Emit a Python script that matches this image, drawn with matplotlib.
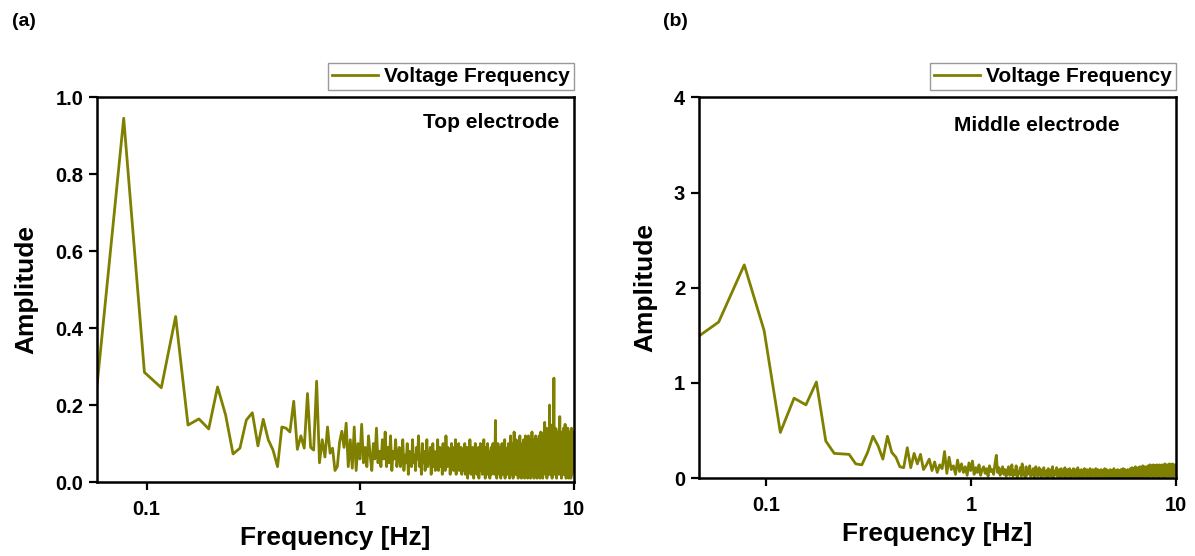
import matplotlib.pyplot as plt
import numpy as np
from matplotlib.ticker import NullLocator

plt.rcParams['font.family'] = ['Liberation Sans', 'DejaVu Sans']
plt.rcParams['font.weight'] = 'bold'

# FFT bin width (Hz) and first bin shown in each panel
df = 0.01953
k0_top = 3
k0_mid = 2

# Top electrode amplitudes (one value per FFT bin)
amp_top = [
    0.25, 0.945, 0.285, 0.245, 0.43, 0.148, 0.164, 0.138, 0.247, 0.174,
    0.073, 0.088, 0.161, 0.18, 0.094, 0.163, 0.11, 0.083, 0.04,
    0.143, 0.14, 0.13, 0.21, 0.085, 0.12, 0.088, 0.23, 0.09, 0.083,
    0.262, 0.05, 0.11, 0.065, 0.143, 0.075, 0.088, 0.03, 0.04, 0.104,
    0.132, 0.09, 0.153, 0.04, 0.11, 0.036, 0.143, 0.03, 0.1, 0.06,
    # 1 - 1.5 Hz
    0.15, 0.05, 0.09, 0.04, 0.12, 0.07, 0.03, 0.10, 0.06, 0.14, 0.05, 0.08, 0.04,
    0.11, 0.06, 0.13, 0.04, 0.09, 0.05, 0.12, 0.03, 0.08, 0.06, 0.11, 0.04, 0.07,
    # 1.5 - 3 Hz
    0.09, 0.04, 0.06, 0.11, 0.03, 0.07, 0.05, 0.10, 0.02, 0.08, 0.06, 0.04, 0.11, 0.05, 0.07, 0.03, 0.09, 0.06, 0.12, 0.04,
    0.07, 0.02, 0.10, 0.05, 0.08, 0.03, 0.06, 0.11, 0.04, 0.07, 0.05, 0.09, 0.02, 0.06, 0.10, 0.04, 0.08, 0.03, 0.07, 0.05,
    0.11, 0.03, 0.06, 0.09, 0.04, 0.08, 0.02, 0.10, 0.05, 0.07, 0.03, 0.12, 0.06, 0.04, 0.09, 0.05, 0.08, 0.02, 0.06, 0.10,
    0.04, 0.07, 0.03, 0.09, 0.05, 0.11, 0.02, 0.06, 0.08, 0.04, 0.10, 0.03, 0.07, 0.05, 0.09, 0.02, 0.06,
    # 3 - 6 Hz
    0.08, 0.03, 0.06, 0.10, 0.02, 0.07, 0.04, 0.09, 0.01, 0.06, 0.08, 0.03, 0.11, 0.05, 0.02, 0.07, 0.04, 0.09, 0.06, 0.01,
    0.07, 0.04, 0.10, 0.03, 0.06, 0.02, 0.08, 0.05, 0.09, 0.01, 0.06, 0.04, 0.10, 0.03, 0.07, 0.05, 0.02, 0.08, 0.04, 0.11,
    0.03, 0.06, 0.01, 0.09, 0.05, 0.07, 0.02, 0.10, 0.04, 0.06, 0.03, 0.08, 0.01, 0.07, 0.05, 0.09, 0.02, 0.06, 0.04, 0.10,
    0.03, 0.07, 0.05, 0.02, 0.09, 0.16, 0.04, 0.06, 0.01, 0.08, 0.05, 0.10, 0.03, 0.07, 0.02, 0.09, 0.04, 0.06, 0.01, 0.08,
    0.05, 0.10, 0.03, 0.07, 0.02, 0.06, 0.09, 0.04, 0.11, 0.01, 0.07, 0.05, 0.08, 0.03, 0.06, 0.02, 0.09, 0.04, 0.10, 0.03,
    0.06, 0.01, 0.08, 0.05, 0.12, 0.03, 0.07, 0.02, 0.09, 0.04, 0.06, 0.01, 0.10, 0.05, 0.13, 0.03, 0.07, 0.02, 0.08, 0.04,
    0.11, 0.02, 0.06, 0.09, 0.03, 0.07, 0.01, 0.10, 0.05, 0.08, 0.02, 0.12, 0.04, 0.06, 0.03, 0.09, 0.01, 0.07, 0.05, 0.10,
    0.02, 0.08, 0.04, 0.11, 0.03, 0.06, 0.01, 0.09, 0.05, 0.12, 0.02, 0.07, 0.04,
    # 6 - 10 Hz
    0.10, 0.03, 0.07, 0.01, 0.09, 0.05, 0.12, 0.02, 0.08, 0.04, 0.11, 0.03, 0.06, 0.01, 0.10, 0.05, 0.08, 0.02, 0.13, 0.04,
    0.07, 0.02, 0.09, 0.05, 0.11, 0.01, 0.06, 0.10, 0.03, 0.08, 0.04, 0.12, 0.02, 0.07, 0.05, 0.10, 0.01, 0.09, 0.04, 0.06,
    0.11, 0.03, 0.08, 0.02, 0.12, 0.05, 0.07, 0.01, 0.10, 0.04, 0.13, 0.03, 0.06, 0.09, 0.02, 0.11, 0.05, 0.08, 0.01, 0.12,
    0.04, 0.09, 0.02, 0.13, 0.05, 0.08, 0.155, 0.03, 0.10, 0.06, 0.12, 0.02, 0.09, 0.04, 0.14, 0.01, 0.07, 0.11, 0.03, 0.13,
    0.05, 0.10, 0.02, 0.12, 0.06, 0.09, 0.20, 0.04, 0.11, 0.02, 0.14, 0.07, 0.10, 0.03, 0.13, 0.05, 0.09, 0.01, 0.12, 0.06,
    0.15, 0.03, 0.10, 0.07, 0.12, 0.27, 0.04, 0.11, 0.02, 0.13, 0.06, 0.09, 0.14, 0.03, 0.10, 0.05, 0.12, 0.01, 0.08, 0.11,
    0.04, 0.13, 0.06, 0.10, 0.02, 0.12, 0.07, 0.09, 0.03, 0.14, 0.05, 0.11, 0.17, 0.02, 0.10, 0.06, 0.13, 0.04, 0.08, 0.12,
    0.01, 0.10, 0.05, 0.13, 0.03, 0.09, 0.12, 0.02, 0.11, 0.06, 0.14, 0.04, 0.08, 0.10, 0.02, 0.13, 0.05, 0.09, 0.15, 0.03,
    0.10, 0.06, 0.12, 0.01, 0.09, 0.04, 0.13, 0.07, 0.11, 0.02, 0.10, 0.05, 0.14, 0.03, 0.08, 0.12, 0.01, 0.09, 0.06, 0.11,
    0.03, 0.13, 0.05, 0.10, 0.02, 0.12, 0.07, 0.09, 0.01, 0.11, 0.04, 0.14, 0.06, 0.10, 0.02, 0.12, 0.05, 0.08, 0.13, 0.03,
    0.11, 0.06, 0.10, 0.04, 0.09,
]

# Middle electrode amplitudes
amp_mid = [
    1.37, 1.64, 2.24, 1.55, 0.48, 0.84, 0.77, 1.01, 0.39, 0.26,
    0.255, 0.25, 0.15, 0.14, 0.27, 0.44, 0.34, 0.2, 0.44, 0.27,
    0.22, 0.12, 0.11, 0.32, 0.11, 0.26, 0.15, 0.25, 0.09, 0.14,
    # 0.6 - 1 Hz
    0.20, 0.08, 0.17, 0.06, 0.14, 0.10, 0.28, 0.05, 0.22, 0.09, 0.13, 0.04, 0.19, 0.07, 0.15, 0.06, 0.12, 0.03, 0.16, 0.08,
    # 1 - 1.5 Hz
    0.18, 0.04, 0.11, 0.06, 0.14, 0.03, 0.09, 0.12, 0.05, 0.10, 0.02, 0.13, 0.07,
    0.09, 0.04, 0.15, 0.24, 0.06, 0.11, 0.03, 0.08, 0.12, 0.04, 0.09, 0.02, 0.07,
    # 1.5 - 6 Hz
    0.12, 0.03, 0.06, 0.14, 0.02, 0.08, 0.04, 0.13, 0.01, 0.07, 0.05, 0.11, 0.02, 0.15, 0.04, 0.06, 0.01, 0.12, 0.03, 0.08,
    0.05, 0.13, 0.02, 0.07, 0.04, 0.10, 0.01, 0.06, 0.12, 0.03, 0.08, 0.02, 0.11, 0.05, 0.07, 0.01, 0.09, 0.04, 0.11, 0.02,
    0.06, 0.03, 0.08, 0.01, 0.10, 0.05, 0.07, 0.02, 0.09, 0.04, 0.12, 0.01, 0.06, 0.03, 0.08, 0.05, 0.11, 0.02, 0.07, 0.04,
    0.09, 0.01, 0.06, 0.10, 0.03, 0.07, 0.02, 0.08, 0.05, 0.11, 0.01, 0.06, 0.04, 0.09, 0.02, 0.07, 0.03, 0.10, 0.05, 0.01,
    0.08, 0.04, 0.06, 0.02, 0.10, 0.03, 0.07, 0.05, 0.01, 0.09, 0.04, 0.06, 0.11, 0.02, 0.05, 0.08, 0.01, 0.07, 0.03, 0.09,
    0.04, 0.06, 0.01, 0.08, 0.03, 0.10, 0.05, 0.02, 0.07, 0.04, 0.09, 0.01, 0.06, 0.03, 0.08, 0.05, 0.02, 0.10, 0.04, 0.06,
    0.01, 0.07, 0.03, 0.09, 0.05, 0.02, 0.08, 0.04, 0.06, 0.01, 0.10, 0.03, 0.07, 0.05, 0.02, 0.09, 0.04, 0.06, 0.01, 0.08,
    0.03, 0.06, 0.02, 0.09, 0.04, 0.07, 0.01, 0.05, 0.08, 0.03, 0.06, 0.02, 0.10, 0.04, 0.07, 0.01, 0.05, 0.09, 0.03, 0.06,
    0.02, 0.08, 0.04, 0.05, 0.01, 0.07, 0.03, 0.09, 0.05, 0.02, 0.06, 0.04, 0.08, 0.01, 0.05, 0.07, 0.03, 0.10, 0.02, 0.06,
    0.04, 0.01, 0.07, 0.05, 0.08, 0.02, 0.06, 0.03, 0.09, 0.04, 0.01, 0.07, 0.05, 0.02, 0.08, 0.03, 0.06, 0.01, 0.09, 0.04,
    0.06, 0.02, 0.08, 0.03, 0.05, 0.10, 0.01, 0.07, 0.04, 0.06, 0.02, 0.09, 0.05, 0.03, 0.07, 0.01, 0.08, 0.04, 0.06, 0.02,
    0.09, 0.03, 0.07, 0.05, 0.01, 0.08, 0.04, 0.06, 0.02, 0.10,
    # 6 - 10 Hz
    0.05, 0.09, 0.02, 0.07, 0.04, 0.11, 0.01, 0.08, 0.05, 0.03, 0.10, 0.06, 0.02, 0.09, 0.04, 0.07, 0.01, 0.12, 0.05, 0.03,
    0.08, 0.02, 0.10, 0.06, 0.04, 0.09, 0.01, 0.07, 0.11, 0.03, 0.06, 0.02, 0.09, 0.05, 0.12, 0.03, 0.07, 0.01, 0.10, 0.04,
    0.06, 0.11, 0.02, 0.08, 0.04, 0.13, 0.03, 0.07, 0.01, 0.10, 0.05, 0.09, 0.02, 0.12, 0.06, 0.03, 0.08, 0.04, 0.11, 0.02,
    0.09, 0.05, 0.12, 0.01, 0.07, 0.10, 0.03, 0.13, 0.05, 0.08, 0.02, 0.11, 0.04, 0.09, 0.06, 0.14, 0.02, 0.08, 0.05, 0.12,
    0.03, 0.10, 0.06, 0.13, 0.02, 0.09, 0.04, 0.11, 0.07, 0.14, 0.01, 0.08, 0.05, 0.12, 0.03, 0.10, 0.06, 0.13, 0.02, 0.09,
    0.05, 0.12, 0.03, 0.11, 0.07, 0.14, 0.02, 0.09, 0.06, 0.13, 0.04, 0.10, 0.01, 0.12, 0.07, 0.09, 0.03, 0.14, 0.05, 0.11,
    0.02, 0.10, 0.06, 0.13, 0.04, 0.08, 0.12, 0.03, 0.11, 0.05, 0.14, 0.02, 0.09, 0.07, 0.12, 0.04, 0.10, 0.01, 0.13, 0.06,
    0.09, 0.03, 0.12, 0.05, 0.15, 0.02, 0.10, 0.07, 0.13, 0.04, 0.11, 0.06, 0.14, 0.02, 0.09, 0.05, 0.12, 0.03, 0.10, 0.07,
    0.14, 0.04, 0.11, 0.06, 0.13, 0.02, 0.10, 0.08, 0.15, 0.03, 0.12, 0.05, 0.09, 0.13, 0.04, 0.11, 0.07, 0.14, 0.02, 0.10,
    0.06, 0.13, 0.03, 0.12, 0.08, 0.15, 0.04, 0.10, 0.06, 0.14, 0.02, 0.11, 0.07, 0.13, 0.05, 0.09, 0.12, 0.03, 0.14, 0.06,
    0.11, 0.04, 0.13, 0.07, 0.10,
]

freq_top = df * (k0_top + np.arange(len(amp_top)))
freq_mid = df * (k0_mid + np.arange(len(amp_mid)))

x_ticks = [0.1, 1, 10]
x_tick_labels = ['0.1', '1', '10']

line_color = '#808000'

fig = plt.figure(figsize=(11.95, 5.56), dpi=100)
ax1 = fig.add_axes([0.0812, 0.133, 0.399, 0.6925])
ax2 = fig.add_axes([0.585, 0.140, 0.399, 0.685])


def style_axis(ax):
    ax.set_xscale('log')
    ax.set_xticks(x_ticks)
    ax.set_xticklabels(x_tick_labels)
    ax.xaxis.set_minor_locator(NullLocator())
    ax.tick_params(axis='both', direction='out', length=6, width=1.6, labelsize=14.5, pad=4)
    ax.tick_params(axis='x', pad=7)
    for side in ax.spines.values():
        side.set_linewidth(1.8)
    ax.set_xlabel('Frequency [Hz]', fontsize=19, fontweight='bold', labelpad=5)
    ax.set_ylabel('Amplitude', fontsize=19, fontweight='bold', labelpad=12)
    leg = ax.legend(loc='lower right', bbox_to_anchor=(1.0, 1.018), borderaxespad=0,
                    fancybox=False, edgecolor='#999999', fontsize=15, handlelength=2.2,
                    handletextpad=0.3, borderpad=0.2, framealpha=1)
    leg.get_frame().set_linewidth(1.0)


# (a) Top electrode
ax1.plot(freq_top, amp_top, color=line_color, linewidth=2.0, label='Voltage Frequency')
ax1.set_xlim(0.0586, 10)
ax1.set_ylim(0, 1.0)
ax1.set_yticks([0.0, 0.2, 0.4, 0.6, 0.8, 1.0])
ax1.set_yticklabels(['0.0', '0.2', '0.4', '0.6', '0.8', '1.0'])
style_axis(ax1)
ax1.text(0.97, 0.935, 'Top electrode', transform=ax1.transAxes, ha='right', va='center',
         fontsize=15, fontweight='bold')

# (b) Middle electrode
ax2.plot(freq_mid, amp_mid, color=line_color, linewidth=2.0, label='Voltage Frequency')
ax2.set_xlim(0.047, 10)
ax2.set_ylim(0, 4)
ax2.set_yticks([0, 1, 2, 3, 4])
style_axis(ax2)
ax2.text(0.883, 0.926, 'Middle electrode', transform=ax2.transAxes, ha='right', va='center',
         fontsize=15, fontweight='bold')

# Panel letters
fig.text(0.010, 0.962, '(a)', fontsize=14, fontweight='bold', va='center')
fig.text(0.555, 0.962, '(b)', fontsize=14, fontweight='bold', va='center')

fig.savefig('out.png', dpi=100)
